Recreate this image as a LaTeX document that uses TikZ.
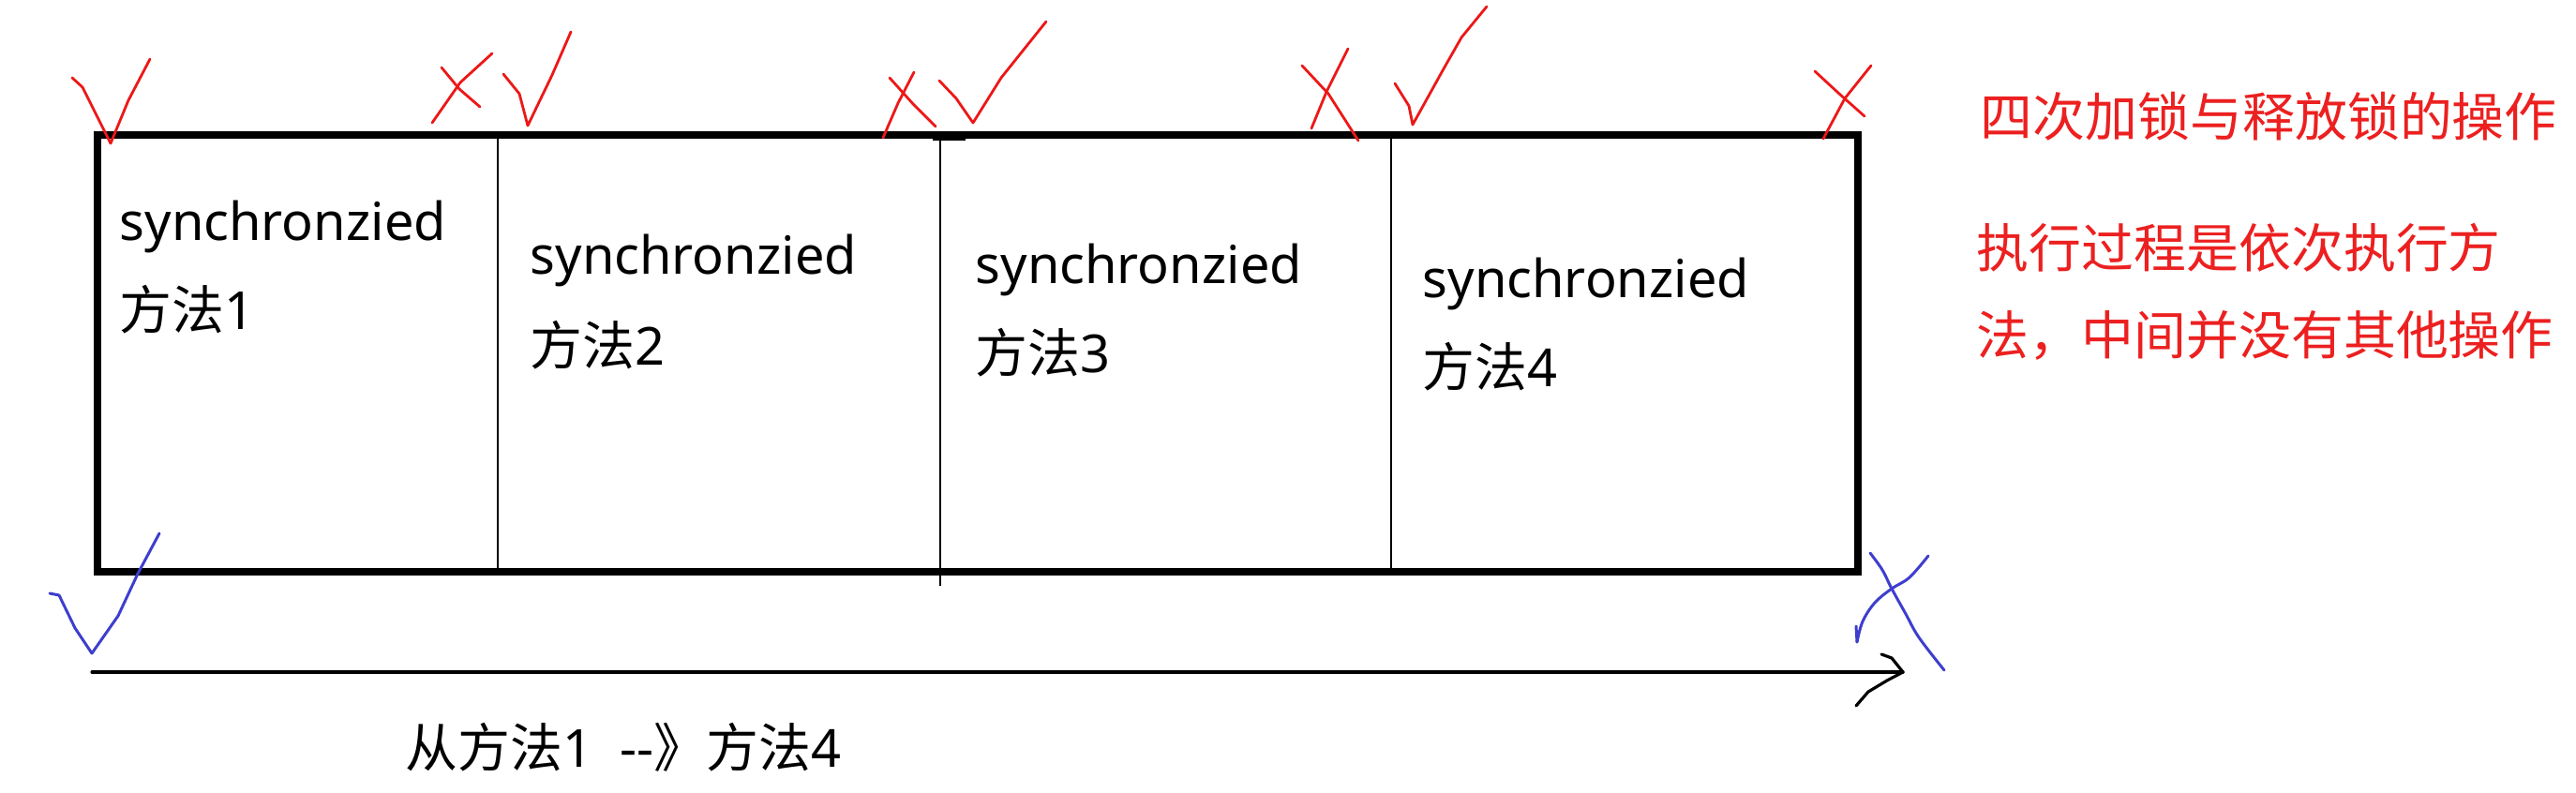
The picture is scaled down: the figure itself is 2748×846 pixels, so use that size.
\documentclass[tikz,border=0pt]{standalone}
\usepackage{fontspec}
\setmainfont{Noto Sans}
\newfontfamily\cjkfont{Noto Sans CJK SC}
\usetikzlibrary{positioning}
\definecolor{penred}{RGB}{236,24,24}
\definecolor{penblue}{RGB}{62,62,206}
\definecolor{notered}{RGB}{236,32,32}

\begin{document}
\begin{tikzpicture}[
    x=0.01cm, y=-0.01cm,
    frame/.style = {draw=black, line width=2.2pt},
    divider/.style = {draw=black, line width=0.75pt},
    celltext/.style = {anchor=base west, inner sep=0pt, font=\fontsize{15.9pt}{27pt}\selectfont},
    note/.style = {anchor=base west, inner sep=0pt, text=notered, font=\cjkfont\fontsize{15.9pt}{27pt}\selectfont},
    redpen/.style = {draw=penred, line width=0.8pt, line cap=round, line join=round},
    bluepen/.style = {draw=penblue, line width=0.85pt, line cap=round, line join=round},
    flow/.style = {draw=black, line width=0.9pt, line cap=round, line join=round}
]
\useasboundingbox (0,0) rectangle (2748,846);

% Frame with the four methods
\coordinate (boxnw) at (104,144);
\coordinate (boxse) at (1982,610);
\draw [frame] (boxnw) rectangle (boxse);
\draw [divider] (531,144) -- (531,610);
\draw [divider] (1003,144) -- (1003,625);
\fill (995,146) rectangle (1030,150);
\draw [divider] (1484,144) -- (1484,610);

\node (sync1) [celltext] at (127,257) {synchronzied};
\node (meth1) [celltext] at (127,352) {{\cjkfont 方法}1};
\node (sync2) [celltext] at (565,293) {synchronzied};
\node (meth2) [celltext] at (565,390) {{\cjkfont 方法}2};
\node (sync3) [celltext] at (1040,303) {synchronzied};
\node (meth3) [celltext] at (1040,398) {{\cjkfont 方法}3};
\node (sync4) [celltext] at (1517,318) {synchronzied};
\node (meth4) [celltext] at (1517,413) {{\cjkfont 方法}4};

% Notes on the right
\node (note1) [note] at (2112,146) {四次加锁与释放锁的操作};
\node (note2) [note] at (2108,286) {执行过程是依次执行方};
\node (note3) [note] at (2108,379) {法，中间并没有其他操作};

% Lock / unlock marks
\draw [redpen] (77,83) -- (88,93) -- (118,153) -- (137,107) -- (160,63);
\draw [redpen] (471,72) -- (490,95) -- (512,114);
\draw [redpen] (525,57) -- (491,88) -- (461,131);
\draw [redpen] (537,79) -- (554,100) -- (563,134) -- (589,80) -- (609,34);
\draw [redpen] (949,83) -- (975,112) -- (998,135);
\draw [redpen] (975,77) -- (958,110) -- (942,147);
\draw [redpen] (1002,86) -- (1020,105) -- (1038,131) -- (1068,83) -- (1116,23);
\draw [redpen] (1389,70) -- (1417,100) -- (1449,150);
\draw [redpen] (1438,52) -- (1415,98) -- (1399,137);
\draw [redpen] (1488,89) -- (1503,113) -- (1507,133) -- (1538,77) -- (1559,40) -- (1586,7);
\draw [redpen] (1936,76) -- (1962,100) -- (1989,124);
\draw [redpen] (1996,70) -- (1968,105) -- (1945,148);

\draw [bluepen] (53,633) -- (63,635) -- (80,670) -- (98,697) -- (126,657) -- (147,612) -- (170,569);
\draw [bluepen] plot [smooth, tension=0.6] coordinates {(1995,590) (2008,608) (2018,628) (2033,655) (2047,680) (2074,715)};
\draw [bluepen] plot [smooth, tension=0.6] coordinates {(2057,593) (2037,616) (2018,628) (2000,643) (1987,663) (1981,685)};
\draw [bluepen] (1980,668) -- (1981,685);

% Direction of execution
\coordinate (flowstart) at (98,717);
\coordinate (flowend) at (2030,717);
\draw [flow] (flowstart) -- (flowend);
\draw [flow] (2007,698) -- (2018,702) -- (flowend) -- (2013,726) -- (1993,738) -- (1980,753);
\node (order) [celltext] at (432,818) {{\cjkfont 从方法}1\ \ -{}-{\cjkfont 》方法}4};

\end{tikzpicture}
\end{document}
